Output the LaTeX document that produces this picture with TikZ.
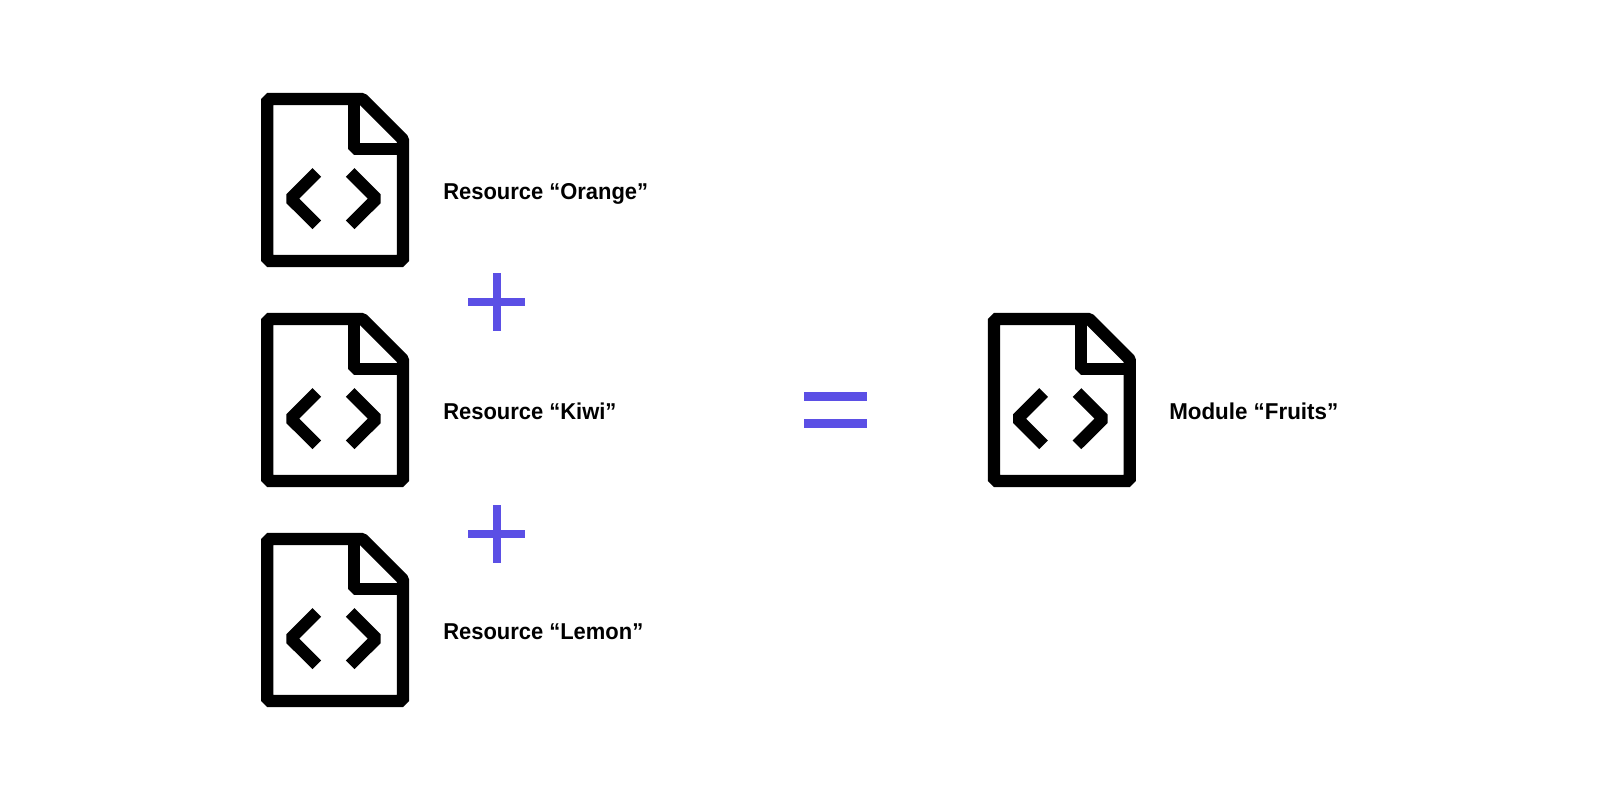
\documentclass[tikz,border=0pt]{standalone}
\usepackage{fontspec}
\setmainfont[FakeStretch=0.957]{Liberation Sans}
\newfontfamily\fruitsfont[FakeStretch=0.975]{Liberation Sans}
\definecolor{accent}{HTML}{5B4FE5}
\tikzset{
  x=0.75pt,y=-0.75pt,
  iconline/.style={line width=9.2pt,line join=bevel,black},
  bar/.style={fill=accent,draw=none},
  lbl/.style={anchor=base west,inner sep=0pt,font=\bfseries\fontsize{17.2pt}{20pt}\selectfont,text=black},
  pics/codefile/.style={code={
    \draw[iconline] (267.3,99) -- (362.5,99) -- (403,139.5) -- (403,261) -- (267.3,261) -- cycle;
    \draw[iconline] (354.3,99) -- (354.3,148.7) -- (403,148.7);
    \draw[iconline] (316.8,172.5) -- (290.6,198.7) -- (316.8,224.8);
    \draw[iconline] (350.2,172.5) -- (376.4,198.7) -- (350.2,224.8);
  }}
}
\begin{document}
\begin{tikzpicture}
\useasboundingbox[fill=white] (0,0) rectangle (1600,800);
\pic at (0,0) {codefile};
\pic at (0,220) {codefile};
\pic at (0,440) {codefile};
\pic at (726.8,220) {codefile};
\node[lbl] (orange) at (443,199.5) {Resource “Orange”};
\node[lbl] (kiwi) at (443,419.5) {Resource “Kiwi”};
\node[lbl] (lemon) at (443,639.5) {Resource “Lemon”};
\node[lbl] (fruits) at (1169,419.5) {\fruitsfont\bfseries Module “Fruits”};
\fill[bar] (468.3,298) rectangle (525.3,306.2);
\fill[bar] (492.7,273.3) rectangle (501,330.5);
\fill[bar] (468.3,530) rectangle (525.3,538.2);
\fill[bar] (492.7,505.3) rectangle (501,562.5);
\fill[bar] (804,391.7) rectangle (866.6,400.7);
\fill[bar] (804,419) rectangle (866.6,428);
\end{tikzpicture}
\end{document}
